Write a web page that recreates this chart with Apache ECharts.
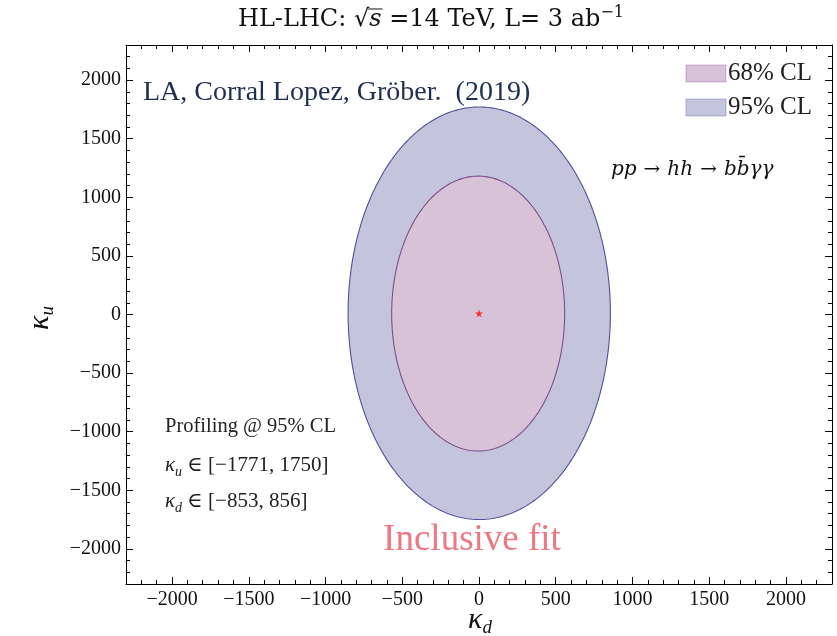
<!DOCTYPE html>
<html>
<head>
<meta charset="utf-8">
<script src="https://cdn.jsdelivr.net/npm/echarts@6/dist/echarts.min.js"></script>
<style>
  html, body { margin: 0; padding: 0; background: #ffffff; }
  #chart { width: 837px; height: 636px; }
</style>
</head>
<body>
<div id="chart"></div>
<script>
// ---- data ----
const kdRange = [-2300, 2300];
const kuRange = [-2300, 2300];
const majorTicks = [-2000, -1500, -1000, -500, 0, 500, 1000, 1500, 2000];
const minorStep = 100;

// Confidence regions, given by their extents: [kdMin, kdMax, kuMin, kuMax]
const regionNames = ['95% CL', '68% CL'];
const region95 = [-853, 856, -1750, 1771];
const region68 = [-569, 558, -1165, 1181];

// Best-fit point [kd, ku]
const bestFit = [0, 10];

// Profiled 95% CL intervals
const kuInterval = [-1771, 1750];
const kdInterval = [-853, 856];

// ---- styling ----
const SERIF = '"Liberation Serif", "DejaVu Serif", serif';
const WIDE = '"DejaVu Serif", "Liberation Serif", serif';
const fill95 = '#c4c5dc', stroke95 = '#50509a';
const fill68 = '#d7c2d7', stroke68 = '#7d4f8c';
const tickColor = '#111';

const fmt = v => (v < 0 ? '\u2212' + Math.abs(v) : String(v));

// closed contour through the four extremes, built from quarter-ellipse arcs in pixel space
function renderRegion(params, api) {
  const kdMin = api.value(0), kdMax = api.value(1);
  const kuMin = api.value(2), kuMax = api.value(3);
  const kdMid = (kdMin + kdMax) / 2, kuMid = (kuMin + kuMax) / 2;
  const c = api.coord([kdMid, kuMid]);
  const left = api.coord([kdMin, kuMid])[0];
  const right = api.coord([kdMax, kuMid])[0];
  const top = api.coord([kdMid, kuMax])[1];
  const bottom = api.coord([kdMid, kuMin])[1];
  const pts = [];
  const n = 360;
  for (let i = 0; i < n; i++) {
    const t = (i / n) * Math.PI * 2;
    const cs = Math.cos(t), sn = Math.sin(t);
    const rx = cs >= 0 ? right - c[0] : c[0] - left;
    const ry = sn >= 0 ? c[1] - top : bottom - c[1];
    pts.push([c[0] + cs * rx, c[1] - sn * ry]);
  }
  return { type: 'polygon', shape: { points: pts }, style: api.style() };
}

function makeAxis(kind, position, major, showLabels) {
  const range = kind === 'x' ? kdRange : kuRange;
  return {
    type: 'value', position: position, min: range[0], max: range[1],
    interval: minorStep,
    axisLine: { show: !major, onZero: false, lineStyle: { color: '#000', width: 1 } },
    axisTick: major
      ? { show: true, inside: true, length: 7, customValues: majorTicks, lineStyle: { color: '#000', width: 1 } }
      : { show: true, inside: true, length: 4, lineStyle: { color: '#000', width: 1 } },
    axisLabel: showLabels
      ? { show: true, customValues: majorTicks, formatter: fmt, margin: kind === 'x' ? 6 : 5,
          fontFamily: SERIF, fontSize: 20, color: tickColor }
      : { show: false },
    splitLine: { show: false }
  };
}

// text measuring for placing the radical overline in the title
const mctx = document.createElement('canvas').getContext('2d');
function textWidth(t, font) { mctx.font = font; return mctx.measureText(t).width; }

const titleSize = 24, titleSup = 16;
const tA = 'HL-LHC: ', tRad = '\u221A', tS = 's', tB = ' =14 TeV, L= 3 ab', tSup = '\u22121';
const wA = textWidth(tA, titleSize + 'px ' + WIDE);
const wRad = textWidth(tRad, titleSize + 'px ' + WIDE);
const wS = textWidth(tS, 'italic ' + titleSize + 'px ' + WIDE);
const wB = textWidth(tB, titleSize + 'px ' + WIDE);
const wSup = textWidth(tSup, titleSup + 'px ' + WIDE);
const titleW = wA + wRad + wS + wB + wSup;
const titleX = 431 - titleW / 2;
const titleY = 20;

const kappaRich = {
  k: { fontFamily: SERIF, fontSize: 21, fontStyle: 'italic', fill: '#222', lineHeight: 27 },
  u: { fontFamily: SERIF, fontSize: 14, fontStyle: 'italic', fill: '#222', lineHeight: 14, verticalAlign: 'bottom' },
  n: { fontFamily: SERIF, fontSize: 21, fill: '#222', lineHeight: 27 }
};

const chart = echarts.init(document.getElementById('chart'), null, { renderer: 'canvas' });

chart.setOption({
  animation: false,
  backgroundColor: '#ffffff',
  grid: { left: 126, right: 5, top: 45, bottom: 52, containLabel: false },
  xAxis: [makeAxis('x', 'bottom', false, true), makeAxis('x', 'bottom', true, false),
          makeAxis('x', 'top', false, false), makeAxis('x', 'top', true, false)],
  yAxis: [makeAxis('y', 'left', false, true), makeAxis('y', 'left', true, false),
          makeAxis('y', 'right', false, false), makeAxis('y', 'right', true, false)],
  legend: {
    orient: 'vertical', right: 20, top: 56,
    itemWidth: 40, itemHeight: 17, itemGap: 9,
    icon: 'rect',
    data: [
      { name: regionNames[1], itemStyle: { color: fill68, borderColor: 'rgba(125,79,140,0.35)', borderWidth: 1 } },
      { name: regionNames[0], itemStyle: { color: fill95, borderColor: 'rgba(80,80,154,0.35)', borderWidth: 1 } }
    ],
    textStyle: { fontFamily: SERIF, fontSize: 25, color: '#222', padding: [0, 0, 0, -3] },
    selectedMode: false
  },
  series: [
    {
      name: regionNames[0], type: 'custom', xAxisIndex: 0, yAxisIndex: 0,
      renderItem: renderRegion, encode: { x: [0, 1], y: [2, 3] },
      itemStyle: { color: fill95, borderColor: stroke95, borderWidth: 1.1 },
      data: [region95], z: 2, silent: true
    },
    {
      name: regionNames[1], type: 'custom', xAxisIndex: 0, yAxisIndex: 0,
      renderItem: renderRegion, encode: { x: [0, 1], y: [2, 3] },
      itemStyle: { color: fill68, borderColor: stroke68, borderWidth: 1.1 },
      data: [region68], z: 3, silent: true
    },
    {
      name: 'best fit', type: 'scatter', xAxisIndex: 0, yAxisIndex: 0,
      symbol: 'path://M50,0 L61,35 L98,35 L68,57 L79,91 L50,70 L21,91 L32,57 L2,35 L39,35 Z',
      symbolSize: 8, itemStyle: { color: '#ff0000' },
      data: [bestFit], z: 5, silent: true
    }
  ],
  graphic: [
    // title
    {
      type: 'text', left: titleX, top: titleY - 15, z: 10,
      style: {
        text: '{a|' + tA + '}{r|' + tRad + '}{s|' + tS + '}{a|' + tB + '}{p|' + tSup + '}',
        rich: {
          a: { fontFamily: WIDE, fontSize: titleSize, fill: '#111', lineHeight: 30 },
          r: { fontFamily: WIDE, fontSize: titleSize, fill: '#111', lineHeight: 30 },
          s: { fontFamily: WIDE, fontSize: titleSize, fontStyle: 'italic', fill: '#111', lineHeight: 30 },
          p: { fontFamily: WIDE, fontSize: titleSup, fill: '#111', lineHeight: 16, verticalAlign: 'top' }
        }
      }
    },
    {
      type: 'line', z: 10,
      shape: { x1: titleX + wA + wRad - 1, y1: titleY - 11, x2: titleX + wA + wRad + wS + 1, y2: titleY - 11 },
      style: { stroke: '#111', lineWidth: 1 }
    },
    // citation
    {
      type: 'text', left: 143, top: 79, z: 10,
      style: { text: 'LA, Corral Lopez, Gr\u00F6ber.  (2019)', fontFamily: SERIF, fontSize: 28, fill: '#1d2f50' }
    },
    // process
    {
      type: 'text', left: 611, top: 160, z: 10,
      style: {
        text: '{i|pp}{n|\u2192}{i|hh}{n|\u2192}{i|bb\u0304\u03B3\u03B3}',
        rich: {
          i: { fontFamily: WIDE, fontSize: 20, fontStyle: 'italic', fill: '#111' },
          n: { fontFamily: WIDE, fontSize: 20, fill: '#111', padding: [0, 7, 0, 7] }
        }
      }
    },
    // profiled intervals
    {
      type: 'text', left: 165, top: 416, z: 10,
      style: { text: 'Profiling @ 95% CL', fontFamily: SERIF, fontSize: 20.5, fill: '#222' }
    },
    {
      type: 'text', left: 165, top: 455, z: 10,
      style: { text: '{k|\u03BA}{u|u}{n| \u2208 [' + fmt(kuInterval[0]) + ', ' + fmt(kuInterval[1]) + ']}', rich: kappaRich }
    },
    {
      type: 'text', left: 165, top: 491, z: 10,
      style: { text: '{k|\u03BA}{u|d}{n| \u2208 [' + fmt(kdInterval[0]) + ', ' + fmt(kdInterval[1]) + ']}', rich: kappaRich }
    },
    // fit label
    {
      type: 'text', x: 472, y: 540, z: 10,
      style: { text: 'Inclusive fit', fontFamily: SERIF, fontSize: 37, fill: '#ee7784', textAlign: 'center', textVerticalAlign: 'middle' }
    },
    // axis names
    {
      type: 'text', x: 480, y: 620, z: 10,
      style: {
        text: '{k|\u03BA}{s|d}',
        rich: {
          k: { fontFamily: SERIF, fontSize: 30, fontStyle: 'italic', fill: '#111', lineHeight: 34 },
          s: { fontFamily: SERIF, fontSize: 19, fontStyle: 'italic', fill: '#111', lineHeight: 19, verticalAlign: 'bottom' }
        },
        textAlign: 'center', textVerticalAlign: 'middle'
      }
    },
    {
      type: 'text', x: 40, y: 318, rotation: Math.PI / 2, z: 10,
      style: {
        text: '{k|\u03BA}{s|u}',
        rich: {
          k: { fontFamily: SERIF, fontSize: 30, fontStyle: 'italic', fill: '#111', lineHeight: 34 },
          s: { fontFamily: SERIF, fontSize: 19, fontStyle: 'italic', fill: '#111', lineHeight: 19, verticalAlign: 'bottom' }
        },
        textAlign: 'center', textVerticalAlign: 'middle'
      }
    }
  ]
});
</script>
</body>
</html>
